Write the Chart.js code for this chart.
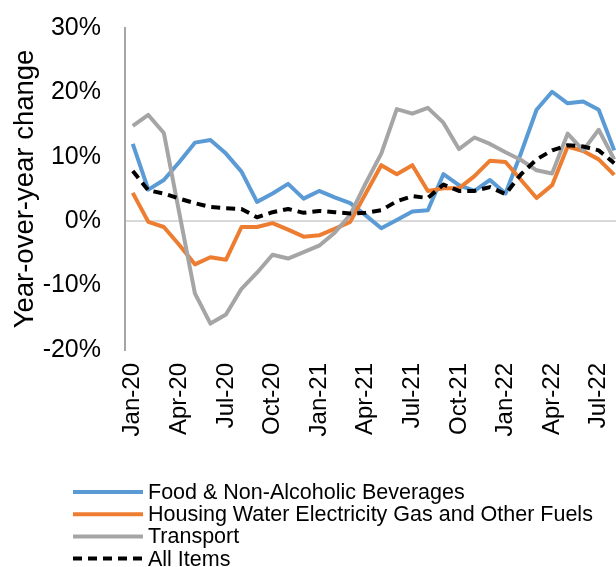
<!DOCTYPE html>
<html>
<head>
<meta charset="utf-8">
<script src="https://cdn.jsdelivr.net/npm/chart.js@4"></script>
<style>
  html, body { margin: 0; padding: 0; background: #fff; overflow: hidden; }
  #wrap { width: 616px; height: 567px; overflow: hidden; }
</style>
</head>
<body>
<div id="wrap"><canvas id="cpiChart" width="630" height="567"></canvas></div>
<script>
// monthly categories, Jan-20 .. Aug-22
const months = [
  "Jan-20", "Feb-20", "Mar-20", "Apr-20", "May-20", "Jun-20", "Jul-20", "Aug-20", "Sep-20", "Oct-20", "Nov-20", "Dec-20",
  "Jan-21", "Feb-21", "Mar-21", "Apr-21", "May-21", "Jun-21", "Jul-21", "Aug-21", "Sep-21", "Oct-21", "Nov-21", "Dec-21",
  "Jan-22", "Feb-22", "Mar-22", "Apr-22", "May-22", "Jun-22", "Jul-22", "Aug-22"
];

// year-over-year change, %
const food = [12.0, 4.9, 6.4, 9.2, 12.2, 12.6, 10.5, 7.7, 3.0, 4.3, 5.8, 3.5,
  4.7, 3.7, 2.8, 0.9, -1.1, 0.2, 1.5, 1.7, 7.3, 5.6, 4.7, 6.4,
  4.3, 10.6, 17.3, 20.1, 18.3, 18.6, 17.3, 11.0];
const housing = [4.4, -0.1, -0.9, -3.7, -6.7, -5.6, -6.0, -0.9, -0.9, -0.3, -1.3, -2.4,
  -2.2, -1.2, -0.1, 4.3, 8.7, 7.3, 8.7, 4.7, 5.1, 5.1, 7.0, 9.4,
  9.2, 6.4, 3.6, 5.6, 11.6, 10.9, 9.6, 7.2];
const transport = [14.8, 16.5, 13.7, 1.2, -11.2, -15.9, -14.5, -10.5, -8.0, -5.2, -5.8, -4.8,
  -3.8, -1.8, 1.0, 5.9, 10.5, 17.4, 16.7, 17.6, 15.3, 11.2, 13.0, 12.0,
  10.7, 9.5, 7.9, 7.4, 13.6, 11.0, 14.2, 9.6];
const allItems = [7.8, 4.8, 4.3, 3.5, 2.8, 2.2, 2.0, 1.9, 0.6, 1.4, 1.9, 1.3,
  1.6, 1.4, 1.2, 1.3, 1.7, 3.1, 3.9, 3.6, 5.7, 4.7, 4.7, 5.3,
  4.2, 7.3, 9.6, 11.0, 11.8, 11.6, 11.0, 9.0];

const yTicks = [-20, -10, 0, 10, 20, 30];

const FONT = '"Liberation Sans", Arial, sans-serif';

// legend drawn as a vertical list under the axis labels
const listLegend = {
  id: "listLegend",
  afterDraw(chart) {
    const ctx = chart.ctx;
    ctx.save();
    ctx.font = "21.5px " + FONT;
    ctx.textBaseline = "middle";
    ctx.fillStyle = "#000";
    chart.data.datasets.forEach((ds, i) => {
      const y = 492 + i * 22.2;
      ctx.strokeStyle = ds.borderColor;
      ctx.lineWidth = 4;
      ctx.setLineDash(ds.borderDash || []);
      ctx.beginPath();
      ctx.moveTo(73, y);
      ctx.lineTo(143, y);
      ctx.stroke();
      ctx.setLineDash([]);
      ctx.fillText(ds.label, 148, y + 1);
    });
    ctx.restore();
  }
};

const line = (label, data, color, order, dash) => ({
  label, data, order,
  borderColor: color,
  borderWidth: 4,
  borderDash: dash || [],
  borderJoinStyle: "round",
  pointRadius: 0,
  tension: 0,
  fill: false
});

const noPad = s => {
  s.paddingTop = 0; s.paddingBottom = 0; s.paddingLeft = 0; s.paddingRight = 0;
};

new Chart(document.getElementById("cpiChart"), {
  type: "line",
  data: {
    labels: months,
    datasets: [
      line("Food & Non-Alcoholic Beverages", food, "#5B9BD5", 3),
      line("Housing Water Electricity Gas and Other Fuels", housing, "#ED7D31", 2),
      line("Transport", transport, "#A5A5A5", 1),
      line("All Items", allItems, "#000000", 0, [9, 6])
    ]
  },
  options: {
    responsive: false,
    animation: false,
    layout: { padding: { top: 28, right: 8, bottom: 117, left: 0 } },
    plugins: { legend: { display: false }, tooltip: { enabled: false } },
    scales: {
      x: {
        offset: true,
        grid: { display: false, drawTicks: false },
        border: { display: false },
        ticks: {
          autoSkip: false,
          minRotation: 90,
          maxRotation: 90,
          padding: 13,
          color: "#000",
          font: { family: FONT, size: 24 },
          callback: (v, i) => (i % 3 === 0 ? months[i] : "")
        },
        afterFit: s => { s.height = 100; noPad(s); }
      },
      y: {
        min: yTicks[0],
        max: yTicks[yTicks.length - 1],
        afterBuildTicks: s => { s.ticks = yTicks.map(v => ({ value: v })); },
        grid: {
          drawTicks: false,
          lineWidth: 2,
          color: c => (c.tick && c.tick.value === 0 ? "#D9D9D9" : "rgba(0,0,0,0)")
        },
        border: { color: "#A6A6A6", width: 2 },
        ticks: {
          padding: 24,
          color: "#000",
          font: { family: FONT, size: 25 },
          callback: v => v + "%"
        },
        title: {
          display: true,
          text: "Year-over-year change",
          color: "#000",
          font: { family: FONT, size: 27.5 },
          padding: { top: 9, bottom: 0 }
        },
        afterFit: s => { s.width = 125; noPad(s); }
      }
    }
  },
  plugins: [listLegend]
});
</script>
</body>
</html>
